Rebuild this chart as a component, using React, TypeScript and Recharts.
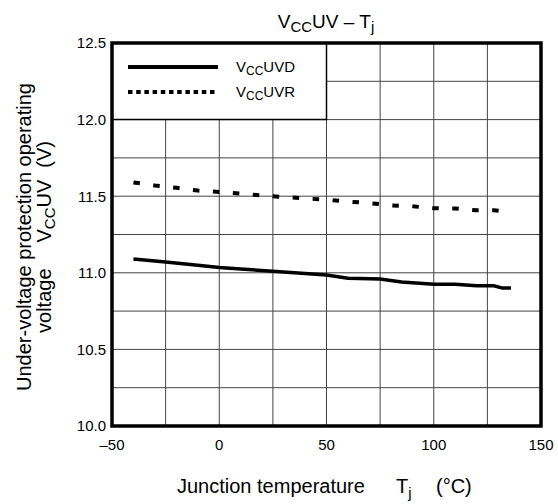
import React from "react";
import {
  LineChart,
  Line,
  XAxis,
  YAxis,
  CartesianGrid,
  ReferenceArea,
  Legend,
} from "recharts";

// V_CC UVD (solid) — detect level
const tempD = [-40, -25, -10, 0, 10, 25, 40, 50, 60, 75, 85, 100, 110, 120, 128, 132, 136];
const vccUVD = [11.09, 11.07, 11.05, 11.035, 11.025, 11.01, 10.995, 10.985, 10.965, 10.96, 10.94, 10.925, 10.925, 10.915, 10.915, 10.9, 10.9];

// V_CC UVR (dotted) — reset level
const tempR = [-40, -30, -20, -10, 0, 10, 20, 30, 40, 50, 60, 70, 80, 90, 100, 110, 120, 128, 136];
const vccUVR = [11.59, 11.57, 11.555, 11.537, 11.527, 11.517, 11.505, 11.495, 11.485, 11.478, 11.465, 11.455, 11.44, 11.434, 11.422, 11.42, 11.408, 11.408, 11.397];

const xTicks = [-50, -25, 0, 25, 50, 75, 100, 125, 150];
const yTicks = [10, 10.25, 10.5, 10.75, 11, 11.25, 11.5, 11.75, 12, 12.25, 12.5];

const dataD = tempD.map((t, i) => ({ t, v: vccUVD[i] }));
const dataR = tempR.map((t, i) => ({ t, v: vccUVR[i] }));

const FONT = '"Liberation Sans", Arial, Helvetica, sans-serif';

function LegendBox() {
  return (
    <svg width={215} height={78} style={{ display: "block" }}>
      <line x1={16} y1={24} x2={106} y2={24} stroke="#000" strokeWidth={4} />
      <line x1={16} y1={49} x2={106} y2={49} stroke="#000" strokeWidth={4} strokeDasharray="4.5 3.7" />
      <text x={124} y={29} fontSize={15} fill="#000">
        V<tspan fontSize={12} dy={3}>CC</tspan>
        <tspan dy={-3}>UVD</tspan>
      </text>
      <text x={124} y={54} fontSize={15} fill="#000">
        V<tspan fontSize={12} dy={3}>CC</tspan>
        <tspan dy={-3}>UVR</tspan>
      </text>
    </svg>
  );
}

export default function App() {
  return (
    <div style={{ position: "absolute", left: 0, top: 0, width: 558, height: 504, background: "#fff", fontFamily: FONT }}>
      <LineChart width={558} height={504} margin={{ top: 43, right: 17, bottom: 48, left: 52 }}>
        <CartesianGrid stroke="#444" strokeWidth={1} />
        <XAxis
          type="number"
          dataKey="t"
          domain={[-50, 150]}
          ticks={xTicks}
          allowDataOverflow
          height={30}
          axisLine={false}
          tickLine={false}
          tickSize={0}
          tickMargin={13}
          tick={{ fontSize: 15, fill: "#000", fontFamily: FONT }}
          tickFormatter={(v) => (v % 50 === 0 ? String(v).replace("-", "\u2013") : "")}
        />
        <YAxis
          type="number"
          domain={[10, 12.5]}
          ticks={yTicks}
          allowDataOverflow
          width={60}
          axisLine={false}
          tickLine={false}
          tickSize={0}
          tickMargin={6}
          tick={{ fontSize: 15, fill: "#000", fontFamily: FONT }}
          tickFormatter={(v) => (Math.abs(v * 2 - Math.round(v * 2)) < 1e-6 ? v.toFixed(1) : "")}
        />
        <ReferenceArea x1={-50} x2={50} y1={12} y2={12.5} fill="#fff" fillOpacity={1} stroke="#000" strokeWidth={1.5} />
        <Line
          data={dataR}
          dataKey="v"
          stroke="#000"
          strokeWidth={4}
          strokeDasharray="6.5 13.5"
          dot={false}
          isAnimationActive={false}
        />
        <Line
          data={dataD}
          dataKey="v"
          stroke="#000"
          strokeWidth={3.5}
          dot={false}
          isAnimationActive={false}
        />
        <ReferenceArea x1={-50} x2={150} y1={10} y2={12.5} fill="none" stroke="#000" strokeWidth={3.5} />
        <Legend
          layout="horizontal"
          align="center"
          verticalAlign="middle"
          content={() => <LegendBox />}
          wrapperStyle={{ position: "absolute", left: 112, top: 43, width: 215, height: 78 }}
        />
      </LineChart>
      <svg
        width={558}
        height={504}
        style={{ position: "absolute", left: 0, top: 0, pointerEvents: "none" }}
      >
        <text x={326} y={28} textAnchor="middle" fontSize={19} fill="#000">
          V<tspan fontSize={15} dy={4}>CC</tspan>
          <tspan dy={-4}>UV – T</tspan>
          <tspan fontSize={15} dy={4}>j</tspan>
        </text>
        <text x={177} y={493} fontSize={20} fill="#000">
          Junction temperature
          <tspan x={396}>T</tspan>
          <tspan fontSize={15} dy={5}>j</tspan>
          <tspan x={436} dy={-5}>(°C)</tspan>
        </text>
        <g transform="rotate(-90)">
          <text x={-237} y={31} textAnchor="middle" fontSize={20} fill="#000">
            Under-voltage protection operating
          </text>
          <text x={-237} y={51} textAnchor="middle" fontSize={20} fill="#000">
            voltage
            <tspan dx={26}>V</tspan>
            <tspan fontSize={15} dy={4}>CC</tspan>
            <tspan dy={-4}>UV</tspan>
            <tspan dx={12}>(V)</tspan>
          </text>
        </g>
      </svg>
    </div>
  );
}
